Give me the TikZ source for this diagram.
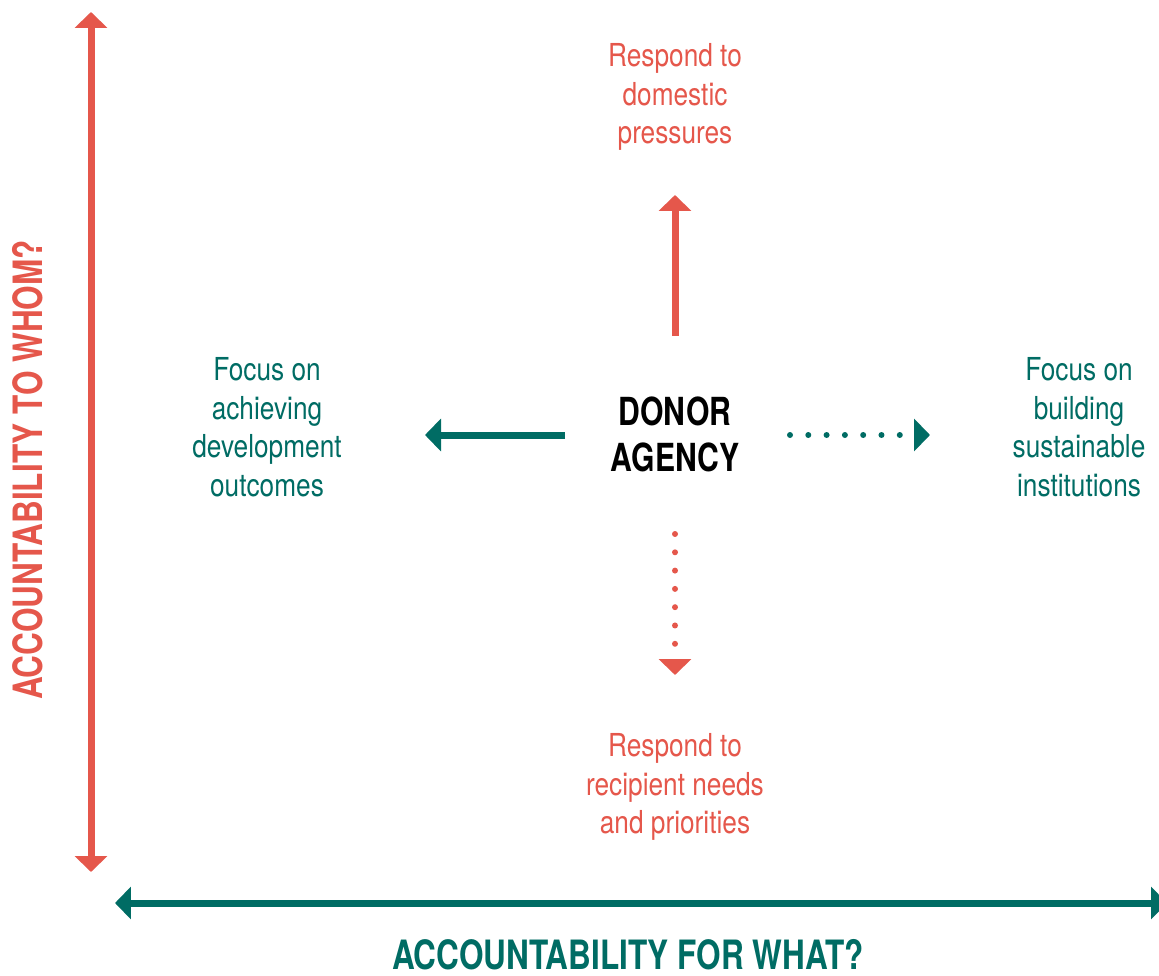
\documentclass[tikz,border=0pt]{standalone}
\usepackage{fontspec}
\setmainfont{TeX Gyre Heros}[FakeStretch=0.83]
\newfontfamily\headfont{TeX Gyre Heros}[FakeStretch=0.78]
\usetikzlibrary{arrows.meta}
\definecolor{coral}{RGB}{229,87,75}
\definecolor{pine}{RGB}{0,108,100}
\tikzset{
	head/.tip={Triangle[length=0.32cm,width=0.64cm]},
	bar/.style={line width=0.14cm},
	dots/.style={line width=0.12cm, line cap=round, dash pattern=on 0pt off 0.366cm},
	note/.style={align=center, inner sep=0pt, anchor=north, font=\fontsize{18}{22}\selectfont},
	title/.style={align=center, inner sep=0pt, font=\headfont\bfseries\fontsize{22}{26}\selectfont},
	axis/.style={title, font=\headfont\bfseries\fontsize{23}{26}\selectfont}
}

\begin{document}
\begin{tikzpicture}[x=0.02cm,y=-0.02cm]

	\clip (0,0) rectangle (1159,976);

	\node[title, anchor=north] (donor) at (675,397) {DONOR\\AGENCY};
	\node[note, text=coral] (domestic) at (675,43) {Respond to\\domestic\\pressures};
	\node[note, text=coral] (recipient) at (675,733) {Respond to\\recipient needs\\and priorities};
	\node[note, text=pine] (outcomes) at (267,357) {Focus on\\achieving\\development\\outcomes};
	\node[note, text=pine] (institutions) at (1079,357) {Focus on\\building\\sustainable\\institutions};
	\node[axis, text=pine] (what) at (628,955) {ACCOUNTABILITY FOR WHAT?};
	\node[axis, text=coral, rotate=90] (whom) at (28,470) {ACCOUNTABILITY TO WHOM?};

	\coordinate (whomlow) at (91,872);
	\coordinate (whomtop) at (91,12);
	\coordinate (whatleft) at (115,903);
	\coordinate (whatright) at (1167,903);

	\coordinate (upfrom) at (675,336);
	\coordinate (upto) at (675,195);
	\coordinate (downfrom) at (675,534);
	\coordinate (downto) at (675,675);
	\coordinate (leftfrom) at (565,435);
	\coordinate (leftto) at (425,435);
	\coordinate (rightfrom) at (790,435);
	\coordinate (rightto) at (930,435);

	\draw[bar, coral, head-head] (whomlow) -- (whomtop);
	\draw[bar, pine, head-head] (whatleft) -- (whatright);

	\draw[bar, coral, -head] (upfrom) -- (upto);
	\draw[dots, coral, -head] (downfrom) -- (downto);
	\draw[bar, pine, -head] (leftfrom) -- (leftto);
	\draw[dots, pine, -head] (rightfrom) -- (rightto);

\end{tikzpicture}
\end{document}
